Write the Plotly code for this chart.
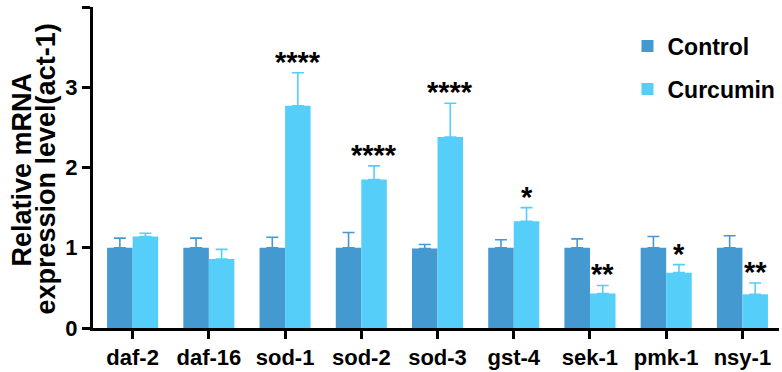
import plotly.graph_objects as go

genes = ["daf-2", "daf-16", "sod-1", "sod-2", "sod-3", "gst-4", "sek-1", "pmk-1", "nsy-1"]
control = [1.0, 1.0, 1.0, 1.0, 0.99, 1.0, 1.0, 1.0, 1.0]
control_err = [0.12, 0.12, 0.13, 0.19, 0.05, 0.10, 0.11, 0.14, 0.15]
curcumin = [1.14, 0.86, 2.77, 1.85, 2.38, 1.33, 0.43, 0.69, 0.42]
curcumin_err = [0.04, 0.12, 0.41, 0.17, 0.42, 0.17, 0.10, 0.10, 0.14]
signif = ["", "", "****", "****", "****", "*", "**", "*", "**"]
ytitle_lines = ["Relative mRNA", "expression level(act-1)"]

c_ctrl = "#4499D0"
c_cur = "#56CEFA"
FONT = "Liberation Sans"

fig = go.Figure()
fig.add_trace(go.Bar(
    x=genes, y=control, name="Control", legendgroup="a", marker=dict(color=c_ctrl, line=dict(width=0)),
    error_y=dict(type="data", array=control_err, arrayminus=[0]*len(genes), symmetric=False,
                 color=c_ctrl, thickness=1.6, width=6)))
fig.add_trace(go.Bar(
    x=genes, y=curcumin, name="Curcumin", legendgroup="b", marker=dict(color=c_cur, line=dict(width=0)),
    error_y=dict(type="data", array=curcumin_err, arrayminus=[0]*len(genes), symmetric=False,
                 color=c_cur, thickness=1.6, width=6)))

bargap = 0.33
offset = (1 - bargap) / 4
for i, s in enumerate(signif):
    if s:
        fig.add_annotation(x=i + offset, y=curcumin[i] + curcumin_err[i], text=s, showarrow=False,
                           yanchor="bottom", yshift=-7,
                           font=dict(family=FONT, size=29, color="black", weight="bold"))

for txt, xs in zip(ytitle_lines, [-72, -48]):
    fig.add_annotation(xref="paper", yref="paper", x=0, y=0.5, xshift=xs, yshift=-2,
                       text=txt, textangle=-90, showarrow=False, xanchor="center", yanchor="middle",
                       font=dict(family=FONT, size=27, color="black", weight="bold"))

fig.update_layout(
    width=782, height=372,
    margin=dict(l=93, r=2, t=7, b=44),
    plot_bgcolor="white", paper_bgcolor="white",
    barmode="group", bargap=bargap, bargroupgap=0,
    font=dict(family=FONT, color="black"),
    showlegend=True,
    legend=dict(x=0.778, y=0.945, xanchor="left", yanchor="top",
                font=dict(family=FONT, size=23, weight="bold"),
                itemwidth=30, tracegroupgap=10, bgcolor="rgba(0,0,0,0)"),
    xaxis=dict(range=[-0.52, 8.48], showline=True, linewidth=3, linecolor="black",
               ticks="outside", ticklen=8, tickwidth=3, tickcolor="black", automargin=False,
               tickfont=dict(family=FONT, size=22, weight="bold"), showgrid=False, zeroline=False),
    yaxis=dict(range=[0, 4], tickvals=[0, 1, 2, 3, 4], showline=True, linewidth=3, linecolor="black",
               ticks="outside", ticklen=8, tickwidth=3, tickcolor="black", automargin=False,
               tickfont=dict(family=FONT, size=22, weight="bold"), showgrid=False, zeroline=False),
)

fig.write_html("out.html", config={"displayModeBar": False},
               post_script="document.body.style.margin='0';")
